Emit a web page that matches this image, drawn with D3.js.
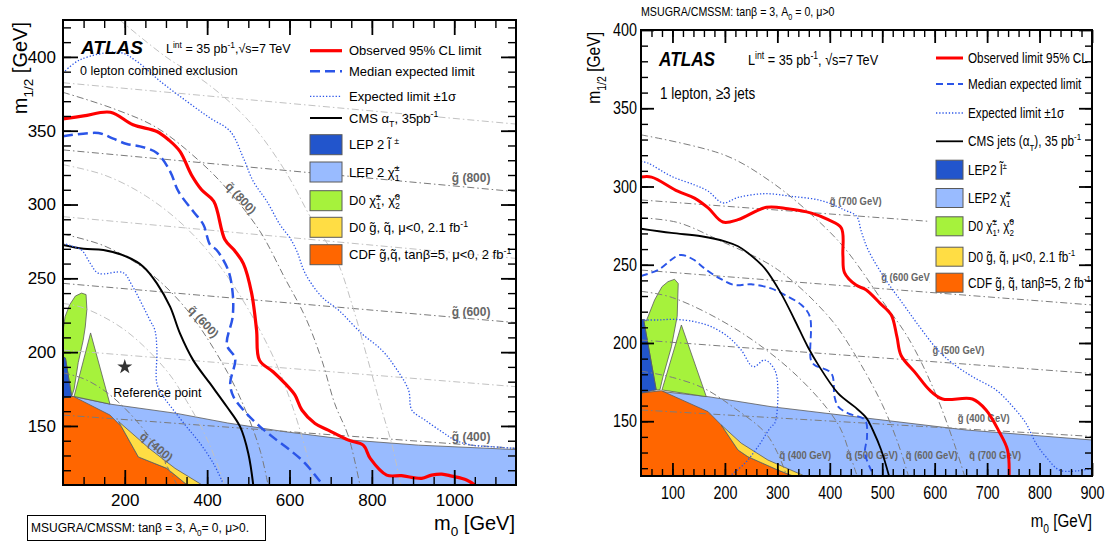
<!DOCTYPE html>
<html>
<head>
<meta charset="utf-8">
<script src="https://cdn.jsdelivr.net/npm/d3@7"></script>
<style>
body { margin: 0; background: #fff; }
svg { display: block; }
</style>
</head>
<body>
<svg id="canvas" width="1112" height="543"></svg>
<script>
// ---------- left panel: 0 lepton combined exclusion ----------
let leftXTicks = [200, 400, 600, 800, 1000]
let leftYTicks = [150, 200, 250, 300, 350, 400]

let leftObserved = [[50,358],[100,360],[165,362.5],[220,354],[278,349.5],[307,343.7],[334,336],[362,320],[387,309.8],[416,302.2],[443,276.3],[466,269],[488,260],[508,240],[520,215],[527,194.6],[560,186.7],[589,178.8],[613,171],[630,160.8],[662,151.7],[694,147.2],[743,140.4],[779,137],[796,128],[836,116.7],[872,116.3],[921,114.5],[945,116.7],[970,117.4],[994,116],[1030,113.4],[1050,110]]
let leftExpected = [[50,346.2],[136,348.4],[172,344.6],[205,341],[237,339.4],[278,334.9],[310,322.5],[330,309],[366,295.4],[391,286.3],[407,272.8],[423,269.2],[451,255.6],[462,240],[462,224],[448,204.8],[468,195.8],[456,178.8],[464,169.8],[488,160.8],[529,149.4],[569,140.4],[601,133.7],[638,124.7],[678,111]]
let leftCms = [[50,272.6],[100,270],[148,269.2],[205,264.6],[245,257.9],[278,246.6],[310,230.8],[334,212.7],[366,194.6],[407,178.8],[448,163],[480,149.5],[500,131.4],[512,110]]
let leftExpUp = [[50,389],[91,398],[188,403],[229,397],[286,383.5],[350,370],[407,358.6],[456,349.6],[488,331.5],[512,315.7],[545,302.2],[577,286.3],[601,277.3],[618,268.3],[638,253.4],[678,237.6],[719,228.5],[775,212.7],[824,201.4],[856,190.1],[889,174.3],[897,160.8],[929,154],[970,146.1],[1002,140.4],[1043,137],[1091,135.9],[1150,134.8]]
let leftExpDown = [[50,273.7],[70,272],[95,269.2],[116,260.2],[136,253.4],[196,253.8],[217,245.5],[261,221.7],[273,215],[278,201.4],[278,178.8],[294,169.8],[318,160.8],[350,149.5],[383,138.2],[415,124.7],[439,111]]

let leftLepChargino = [[50,169],[75,170],[164,164.8],[326,158.5],[450,152],[589,146.1],[751,140.4],[913,137],[1150,134],[1150,110],[50,110]]
let leftCdf = [[50,169],[75,170],[164,157.4],[192,149.5],[233,129],[302,121.3],[342,112.2],[352,110],[50,110]]
let leftD0Squark = [[185,153],[261,134.4],[322,121.3],[388,110],[352,110],[342,112.2],[302,121.3],[233,129],[192,149.5]]
let leftD0Ellipse = [[50,197],[50,214],[55,224],[66,232],[80,238],[95,240],[106,239],[108,229],[104,217],[99,208],[87,193],[77,175],[71,170],[56,196]]
let leftD0Triangle = [[77,170],[117,213],[164,164.8]]
let leftLepSlepton = [[50,197],[56,196],[71,170],[50,169]]

let leftGluinoMass = [400, 500, 600, 700, 800, 900]
let leftGluinoLines = [
  [[50,157.4],[1150,134.8]],
  [[50,201.4],[1150,176.6]],
  [[50,246.6],[1150,220]],
  [[50,291.8],[1150,263.5]],
  [[50,337],[1150,308.7]],
  [[50,382.5],[1150,354.5]]
]
let leftSquarkMass = [400, 500, 600, 700, 800, 900]
let leftSquarkLines = [
  [[50,186],[100,182],[150,174],[200,162],[250,146],[300,124],[327,110]],
  [[50,233],[100,230],[200,215],[300,188],[350,167],[400,141],[430,120],[442,110]],
  [[50,280],[150,272],[250,256],[350,229],[450,186],[500,156],[530,132],[548,110]],
  [[50,327],[150,320],[250,306],[350,284],[450,251],[550,203],[600,169],[640,133],[660,109]],
  [[50,376],[172,365],[278,352],[383,329],[450,310],[528,282],[589,250],[638,224],[678,195],[710,165],[743,143],[771,110]],
  [[188,425],[300,400],[400,382],[500,357],[589,323],[650,292],[715,262],[750,234],[790,195],[825,160],[850,136],[870,110]]
]
let leftIsoLabels = [
  {text: 'g\u0303 (800)', m0: 1041, m12: 318, angle: 0},
  {text: 'g\u0303 (600)', m0: 1041, m12: 227.4, angle: 0},
  {text: 'g\u0303 (400)', m0: 1041, m12: 142.7, angle: 0},
  {text: 'q\u0303 (800)', m0: 482, m12: 304.4, angle: 47},
  {text: 'q\u0303 (600)', m0: 391, m12: 220.6, angle: 47},
  {text: 'q\u0303 (400)', m0: 277, m12: 135.9, angle: 40}
]
let referencePoint = [200, 190]

// ---------- right panel: 1 lepton, >=3 jets ----------
let rightXTicks = [100, 200, 300, 400, 500, 600, 700, 800, 900]
let rightYTicks = [150, 200, 250, 300, 350, 400]

let rightObserved = [[40,306],[60,306],[110,297],[142,292.6],[168,286.3],[196,277.3],[225,278.8],[279,286.7],[320,285.8],[365,283],[397,278.8],[422,273.5],[425,256],[428,245],[450,237],[469,234],[496,225.3],[517,218],[528,204],[536,192],[564,180.6],[590,170],[615,164.2],[672,164.2],[698,157.2],[723,143.3],[739,131.6],[742,115]]
let rightExpected = [[40,242.8],[72,246.6],[114,256.2],[139,253.5],[161,247.7],[190,241.3],[219,237],[250,237.5],[288,234.9],[314,230.7],[346,224.3],[362,216.8],[364,189.1],[371,185.9],[403,180.6],[409,165.7],[416,159.3],[435,155],[467,150.8],[471,140],[467,130],[477,120],[485,115]]
let rightCms = [[40,273],[98,270.3],[155,268.2],[200,265],[225,261.8],[244,257.5],[276,247.7],[307,231.7],[333,214.7],[358,197.6],[378,186],[416,167.8],[447,159.3],[470,152],[482,144.4],[498,131.6],[513,115]]
let rightExpUp = [[40,316],[53,315],[98,306.5],[142,301],[168,297],[196,289.5],[225,293],[276,295.4],[327,293.7],[384,291],[428,285],[451,281],[460,271.4],[473,259.6],[507,240.2],[539,225.3],[571,210.4],[606,195.5],[634,187],[672,178.5],[717,170],[749,159.3],[774,148.7],[793,136],[812,127.3],[838,118.8],[876,118.4],[900,120]]
let rightExpDown = [[40,214.7],[72,214.7],[104,215.1],[142,213.6],[174,210.4],[206,204],[231,195.5],[254,184.8],[276,189.1],[295,182.7],[301,170],[295,148.7],[288,146.5],[263,133.7],[238,123.1],[209,115]]

let rightLepChargino = [[40,168],[79,169],[168,165.7],[288,159.3],[470,152],[660,144.4],[900,138],[900,115],[40,115]]
let rightCdf = [[40,168],[79,169.5],[168,156.1],[193,147.6],[225,131.6],[244,127.3],[301,118.8],[330,115],[40,115]]
let rightD0Squark = [[193,147.6],[231,136],[282,125.2],[352,115],[330,115],[301,118.8],[244,127.3],[225,131.6]]
let rightD0Ellipse = [[45,215],[50,214],[66,227.5],[80,236],[91.5,239.2],[104,240.7],[111,238],[109,217],[98,197.6],[82,178.5],[76,170],[69,170]]
let rightD0Triangle = [[80,170],[117,211.5],[164.5,165.7]]
let rightLepSlepton = [[40,215],[45,215],[69,170],[40,168]]

let rightGluinoMass = [400, 500, 600, 700]
let rightGluinoLines = [
  [[40,157.2],[900,140.3]],
  [[40,201.9],[900,180.5]],
  [[40,246.6],[900,224.3]],
  [[40,291.4],[900,270]]
]
let rightSquarkMass = [400, 500, 600, 700]
let rightSquarkLines = [
  [[40,182],[100,178],[160,171],[220,158],[276,143],[300,130],[318,115]],
  [[40,233],[100,229],[225,208],[339,178.5],[416,148],[440,127],[452,115]],
  [[40,280],[110,277],[193,265],[300,247],[400,216],[450,191.5],[500,160.7],[530,136],[550,115]],
  [[40,333],[200,320],[288,303],[365,282],[428,260.7],[500,227],[550,203],[600,169],[640,133],[657,115]]
]
let rightIsoLabels = [
  {text: 'g\u0303 (700 GeV)', m0: 400, m12: 290.9},
  {text: 'g\u0303 (600 GeV)', m0: 498, m12: 242.4},
  {text: 'g\u0303 (500 GeV)', m0: 596, m12: 195.5},
  {text: 'g\u0303 (400 GeV)', m0: 644, m12: 151.9},
  {text: 'q\u0303 (400 GeV)', m0: 304, m12: 128.4},
  {text: 'q\u0303 (500 GeV)', m0: 431, m12: 128.4},
  {text: 'q\u0303 (600 GeV)', m0: 545, m12: 128.4},
  {text: 'q\u0303 (700 GeV)', m0: 666, m12: 128.4}
]

// ---------- legends ----------
let leftLegendLabels = [
  ['Observed 95% CL limit'],
  ['Median expected limit'],
  ['Expected limit \u00b11\u03c3'],
  ['CMS \u03b1', ['T', 'sub'], ', 35pb', ['-1', 'sup']],
  ['LEP 2 l\u0303 ', ['\u00b1', 'sup']],
  ['LEP 2 \u03c7\u0303', ['\u00b1', 'sup'], ['1', 'stack']],
  ['D0 \u03c7\u0303', ['\u00b1', 'sup'], ['1', 'stack'], ', \u03c7\u0303', ['0', 'sup'], ['2', 'stack']],
  ['D0 g\u0303, q\u0303, \u03bc<0, 2.1 fb', ['-1', 'sup']],
  ['CDF g\u0303,q\u0303, tan\u03b2=5, \u03bc<0, 2 fb', ['-1', 'sup']]
]
let rightLegendLabels = [
  ['Observed limit 95% CL'],
  ['Median expected limit'],
  ['Expected limit \u00b11\u03c3'],
  ['CMS jets (\u03b1', ['T', 'sub'], '), 35 pb', ['-1', 'sup']],
  ['LEP2 l\u0303', ['\u00b1', 'sup']],
  ['LEP2 \u03c7\u0303', ['\u00b1', 'sup'], ['1', 'stack']],
  ['D0 \u03c7\u0303', ['\u00b1', 'sup'], ['1', 'stack'], ', \u03c7\u0303', ['0', 'sup'], ['2', 'stack']],
  ['D0 g\u0303, q\u0303, \u03bc<0, 2.1 fb', ['-1', 'sup']],
  ['CDF g\u0303, q\u0303, tan\u03b2=5, 2 fb', ['-1', 'sup']]
]

let colRed = '#ff0000'
let colBlue = '#2b55e8'
let colSlepton = '#2255cc'
let colChargino = '#99bbff'
let colGreen = '#a6f23c'
let colYellow = '#ffdd44'
let colOrange = '#ff6600'

let sans = '"Liberation Sans", Arial, Helvetica, sans-serif'

let canvas = d3.select('#canvas')

let richText = (sel, parts, size) => {
    let shift = 0
    let last = null
    parts.forEach((p) => {
        let t = typeof p === 'string' ? p : p[0]
        let kind = typeof p === 'string' ? '' : p[1]
        let target = kind === 'sup' ? -0.42 * size : (kind === 'sub' || kind === 'stack') ? 0.3 * size : 0
        let ts = sel.append('tspan').text(t).attr('dy', target - shift)
        if (kind) ts.attr('font-size', size * 0.68)
        if (kind === 'stack' && last) ts.attr('dx', -last.getComputedTextLength())
        last = ts.node()
        shift = target
    })
}

// text squeezed horizontally (the right panel uses a narrow face)
let place = (sel, x, y, sx, rot) => {
    return sel.attr('transform', 'translate(' + x + ',' + y + ')' +
        (rot ? ' rotate(' + rot + ')' : '') + (sx !== 1 ? ' scale(' + sx + ',1)' : ''))
}

let drawPanel = (p) => {
    let x = d3.scaleLinear().domain(p.xDomain).range([p.left, p.right])
    let y = d3.scaleLinear().domain(p.yDomain).range([p.bottom, p.top])
    let g = canvas.append('g').attr('font-family', sans)

    g.append('clipPath').attr('id', 'clip-' + p.id)
        .append('rect')
        .attr('x', p.left).attr('y', p.top)
        .attr('width', p.right - p.left).attr('height', p.bottom - p.top)
    let plot = g.append('g').attr('clip-path', 'url(#clip-' + p.id + ')')

    let straight = d3.line().x((d) => x(d[0])).y((d) => y(d[1]))
    let smooth = d3.line().x((d) => x(d[0])).y((d) => y(d[1])).curve(d3.curveCatmullRom)

    // filled exclusion regions from earlier experiments
    p.regions.forEach((r) => {
        plot.append('path')
            .attr('d', straight(r[0]) + 'Z')
            .attr('fill', r[1])
            .attr('stroke', '#5a5a5a')
            .attr('stroke-width', 0.8)
    })

    // iso-mass lines
    p.gluino.forEach((line, i) => {
        plot.append('path')
            .attr('d', straight(line))
            .attr('fill', 'none')
            .attr('stroke', p.isoColor(p.gluinoMass[i]))
            .attr('stroke-width', 1)
            .attr('stroke-dasharray', '7,3,1.5,3')
    })
    p.squark.forEach((line, i) => {
        plot.append('path')
            .attr('d', smooth(line))
            .attr('fill', 'none')
            .attr('stroke', p.isoColor(p.squarkMass[i]))
            .attr('stroke-width', 1)
            .attr('stroke-dasharray', '7,3,1.5,3')
    })

    p.isoLabels.forEach((l) => {
        let t = plot.append('text')
            .attr('text-anchor', p.isoAnchor)
            .attr('dy', '0.35em')
            .attr('font-weight', 'bold')
            .attr('font-size', p.isoSize)
            .attr('fill', '#666')
            .text(l.text)
        place(t, x(l.m0), y(l.m12), p.sx, l.angle || 0)
    })

    if (p.extras) p.extras(plot, x, y)

    // limit curves
    p.curves.forEach((c) => {
        plot.append('path')
            .attr('d', smooth(c.data))
            .attr('fill', 'none')
            .attr('stroke', c.color)
            .attr('stroke-width', c.width)
            .attr('stroke-dasharray', c.dash || null)
            .attr('stroke-linejoin', 'round')
    })

    // legend
    let lg = p.legend
    if (lg.bg) {
        g.append('rect').attr('x', lg.bg[0]).attr('y', lg.bg[1])
            .attr('width', lg.bg[2]).attr('height', lg.bg[3]).attr('fill', '#fff')
    }
    lg.labels.forEach((lab, i) => {
        let yy = lg.rows[i]
        if (i < 4) {
            let c = p.curves[[3, 1, 0, 2][i]]
            g.append('line')
                .attr('x1', lg.x0).attr('x2', lg.x1).attr('y1', yy).attr('y2', yy)
                .attr('stroke', c.color).attr('stroke-width', c.width)
                .attr('stroke-dasharray', c.dash || null)
        } else {
            g.append('rect')
                .attr('x', lg.x0).attr('y', yy - lg.boxH / 2)
                .attr('width', lg.x1 - lg.x0).attr('height', lg.boxH)
                .attr('fill', [colSlepton, colChargino, colGreen, colYellow, colOrange][i - 4])
                .attr('stroke', '#5a5a5a').attr('stroke-width', 1)
        }
        let t = g.append('text').attr('font-size', lg.size)
        place(t, lg.tx, yy + lg.size * 0.36, p.sx)
        richText(t, lab, lg.size)
    })

    // frame and ticks
    g.append('rect')
        .attr('x', p.left).attr('y', p.top)
        .attr('width', p.right - p.left).attr('height', p.bottom - p.top)
        .attr('fill', 'none').attr('stroke', '#000').attr('stroke-width', 2)

    let xMinor = d3.range(p.xDomain[0], p.xDomain[1] + 0.1, p.xMinorStep).filter((v) => v > p.xDomain[0] && v < p.xDomain[1])
    let yMinor = d3.range(p.yMinorStart, p.yDomain[1] + 0.1, 10).filter((v) => v > p.yDomain[0] && v < p.yDomain[1])

    let axes = [
        [d3.axisBottom(x), p.bottom, true, xMinor, p.xTicks, true],
        [d3.axisTop(x), p.top, true, xMinor, p.xTicks, false],
        [d3.axisLeft(y), p.left, false, yMinor, p.yTicks, true],
        [d3.axisRight(y), p.right, false, yMinor, p.yTicks, false]
    ]
    axes.forEach((a) => {
        let tr = a[2] ? 'translate(0,' + a[1] + ')' : 'translate(' + a[1] + ',0)'
        let minor = g.append('g').attr('transform', tr)
            .call(a[0].tickValues(a[3]).tickSize(-p.minorLen).tickFormat(''))
        minor.select('.domain').remove()
        minor.selectAll('line').attr('stroke-width', 1.4)
        let major = g.append('g').attr('transform', tr)
            .call(a[0].tickValues(a[4]).tickSize(-p.majorLen).tickPadding(a[2] ? p.xPad : p.yPad)
                .tickFormat(a[5] ? d3.format('d') : ''))
        major.select('.domain').remove()
        major.selectAll('line').attr('stroke-width', 1.8)
        major.attr('font-family', sans).attr('font-size', p.tickSize)
        if (p.sx !== 1) major.selectAll('text').attr('transform', 'scale(' + p.sx + ',1)')
    })

    p.texts(g)
}

drawPanel({
    id: 'left',
    left: 63, right: 516, top: 20, bottom: 485,
    xDomain: [50, 1150], yDomain: [110, 425],
    xTicks: leftXTicks, yTicks: leftYTicks,
    xMinorStep: 50, yMinorStart: 110,
    majorLen: 15, minorLen: 8, xPad: 9, yPad: 7,
    sx: 1, tickSize: 17,
    isoColor: (m) => m % 200 === 0 ? '#7a7a7a' : '#c2c2c2',
    isoAnchor: 'middle', isoSize: 12,
    gluino: leftGluinoLines, gluinoMass: leftGluinoMass,
    squark: leftSquarkLines, squarkMass: leftSquarkMass,
    isoLabels: leftIsoLabels,
    regions: [
        [leftLepChargino, colChargino],
        [leftCdf, colOrange],
        [leftD0Squark, colYellow],
        [leftD0Ellipse, colGreen],
        [leftD0Triangle, colGreen],
        [leftLepSlepton, colSlepton]
    ],
    curves: [
        {data: leftExpUp, color: colBlue, width: 1.3, dash: '1.3,1.9'},
        {data: leftExpected, color: colBlue, width: 2.5, dash: '10,5'},
        {data: leftCms, color: '#000', width: 2},
        {data: leftObserved, color: colRed, width: 3.2},
        {data: leftExpDown, color: colBlue, width: 1.3, dash: '1.3,1.9'}
    ],
    extras: (plot, x, y) => {
        plot.append('path')
            .attr('d', d3.symbol().type(d3.symbolStar).size(70)())
            .attr('transform', 'translate(' + x(referencePoint[0]) + ',' + y(referencePoint[1]) + ')')
            .attr('fill', '#333')
        plot.append('text')
            .attr('x', x(172)).attr('y', y(169.8))
            .attr('font-size', 12.5)
            .text('Reference point')
    },
    legend: {
        x0: 310, x1: 342, tx: 349, boxH: 20, size: 13,
        rows: [50.7, 71.3, 96.3, 118, 144.7, 172, 200.7, 227.3, 254.7],
        labels: leftLegendLabels
    },
    texts: (g) => {
        g.append('text').attr('x', 81).attr('y', 54)
            .attr('font-size', 19)
            .attr('font-weight', 'bold').attr('font-style', 'italic')
            .text('ATLAS')
        let li = g.append('text').attr('x', 166).attr('y', 53)
            .attr('font-size', 12.5)
        richText(li, ['L', ['int', 'sup'], ' = 35 pb', ['-1', 'sup'], ',\u221as=7 TeV'], 12.5)
        g.append('text').attr('x', 80).attr('y', 75)
            .attr('font-size', 12.5)
            .text('0 lepton combined exclusion')
        let yt = g.append('text')
            .attr('transform', 'translate(27,22) rotate(-90)')
            .attr('text-anchor', 'end')
            .attr('font-size', 20)
        richText(yt, ['m', ['1/2', 'sub'], ' [GeV]'], 20)
        let xt = g.append('text').attr('x', 515).attr('y', 530)
            .attr('text-anchor', 'end')
            .attr('font-size', 20)
        richText(xt, ['m', ['0', 'sub'], ' [GeV]'], 20)
        g.append('rect').attr('x', 27.5).attr('y', 515.5).attr('width', 238).attr('height', 25)
            .attr('fill', '#fff').attr('stroke', '#000').attr('stroke-width', 1)
        let bt = g.append('text').attr('x', 31).attr('y', 532)
            .attr('font-size', 12)
        richText(bt, ['MSUGRA/CMSSM: tan\u03b2 = 3, A', ['0', 'sub'], '= 0, \u03bc>0.'], 12)
    }
})

drawPanel({
    id: 'right',
    left: 641, right: 1092, top: 30, bottom: 476,
    xDomain: [40, 900], yDomain: [115, 400],
    xTicks: rightXTicks, yTicks: rightYTicks,
    xMinorStep: 20, yMinorStart: 120,
    majorLen: 13, minorLen: 7, xPad: 11, yPad: 5,
    sx: 0.82, tickSize: 17.5,
    isoColor: () => '#7d7d7d',
    isoAnchor: 'start', isoSize: 11.5,
    gluino: rightGluinoLines, gluinoMass: rightGluinoMass,
    squark: rightSquarkLines, squarkMass: rightSquarkMass,
    isoLabels: rightIsoLabels,
    regions: [
        [rightLepChargino, colChargino],
        [rightCdf, colOrange],
        [rightD0Squark, colYellow],
        [rightD0Ellipse, colGreen],
        [rightD0Triangle, colGreen],
        [rightLepSlepton, colSlepton]
    ],
    curves: [
        {data: rightExpUp, color: colBlue, width: 1.3, dash: '1.3,1.9'},
        {data: rightExpected, color: colBlue, width: 1.9, dash: '7,4'},
        {data: rightCms, color: '#000', width: 1.8},
        {data: rightObserved, color: colRed, width: 3},
        {data: rightExpDown, color: colBlue, width: 1.3, dash: '1.3,1.9'}
    ],
    legend: {
        x0: 936, x1: 963, tx: 968, boxH: 19, size: 14.3,
        bg: [930, 31, 161, 261],
        rows: [58, 84, 113, 141.3, 169.7, 198, 226.3, 256.7, 282.7],
        labels: rightLegendLabels
    },
    texts: (g) => {
        let tt = g.append('text').attr('font-size', 13)
        place(tt, 641, 16, 0.82)
        richText(tt, ['MSUGRA/CMSSM: tan\u03b2 = 3, A', ['0', 'sub'], ' = 0, \u03bc>0'], 13)
        let at = g.append('text').attr('font-size', 21)
            .attr('font-weight', 'bold').attr('font-style', 'italic')
            .text('ATLAS')
        place(at, 659, 66, 0.82)
        let li = g.append('text').attr('font-size', 15.5)
        place(li, 748, 65, 0.82)
        richText(li, ['L', ['int', 'sup'], ' = 35 pb', ['-1', 'sup'], ', \u221as=7 TeV'], 15.5)
        let lt = g.append('text').attr('font-size', 16.5).text('1 lepton, \u22653 jets')
        place(lt, 660, 99, 0.82)
        let yt = g.append('text')
            .attr('text-anchor', 'end')
            .attr('font-size', 19)
        place(yt, 600, 32, 0.82, -90)
        richText(yt, ['m', ['1/2', 'sub'], '  [GeV]'], 19)
        let xt = g.append('text')
            .attr('text-anchor', 'end')
            .attr('font-size', 18.5)
        place(xt, 1092, 527, 0.82)
        richText(xt, ['m', ['0', 'sub'], ' [GeV]'], 18.5)
    }
})
</script>
</body>
</html>
